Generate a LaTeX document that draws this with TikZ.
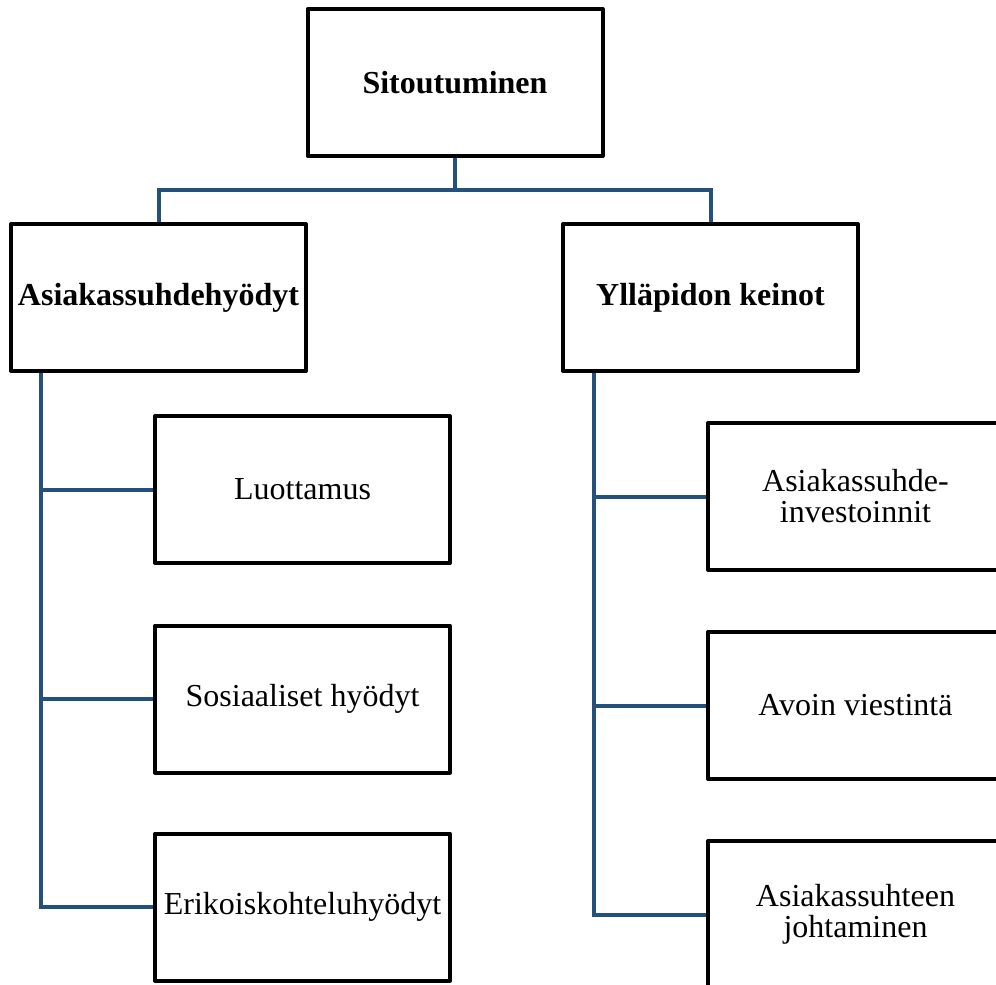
\documentclass[tikz,border=0pt]{standalone}
\usepackage{fontspec}
\setmainfont{Liberation Serif}
\definecolor{linkblue}{HTML}{24507E}
\begin{document}
\begin{tikzpicture}[x=0.5pt,y=-0.5pt,
  box/.style={draw=black,line width=2pt,fill=white,rectangle,
    minimum width=147.5pt,minimum height=73.5pt,inner sep=1pt,
    align=center,line join=round,font=\fontsize{16}{15.5}\selectfont},
  head/.style={box,font=\fontsize{16}{15.5}\selectfont\bfseries},
  conn/.style={draw=linkblue,line width=2pt}]
\useasboundingbox (0,0) rectangle (996,985);
\clip (0,0) rectangle (996,985);
\coordinate (bus) at (0,190);
\coordinate (lx) at (41,0);
\coordinate (rx) at (594,0);
% hierarchy nodes
\node[head] (top) at (455,82.5) {Sitoutuminen};
\node[head] (l) at (158.5,297.5) {Asiakassuhdehyödyt};
\node[head] (r) at (710.5,297.5) {Ylläpidon keinot};
\node[box] (l1) at (302.5,489.5) {Luottamus};
\node[box] (l2) at (302.5,699) {Sosiaaliset hyödyt};
\node[box] (l3) at (302.5,907) {Erikoiskohteluhyödyt};
\node[box] (r1) at (855.5,496.5) {Asiakassuhde-\\investoinnit};
\node[box] (r2) at (855.5,705.5) {Avoin viestintä};
\node[box] (r3) at (855.5,914.5) {Asiakassuhteen\\johtaminen};
% connectors
\draw[conn] (top.south) -- (top.south|-bus) -| (l.north);
\draw[conn] (top.south|-bus) -| (r.north);
\draw[conn] (l.south-|lx) |- (l3.west);
\draw[conn] (l1.west-|lx) -- (l1.west);
\draw[conn] (l2.west-|lx) -- (l2.west);
\draw[conn] (r.south-|rx) |- (r3.west);
\draw[conn] (r1.west-|rx) -- (r1.west);
\draw[conn] (r2.west-|rx) -- (r2.west);
\end{tikzpicture}
\end{document}
